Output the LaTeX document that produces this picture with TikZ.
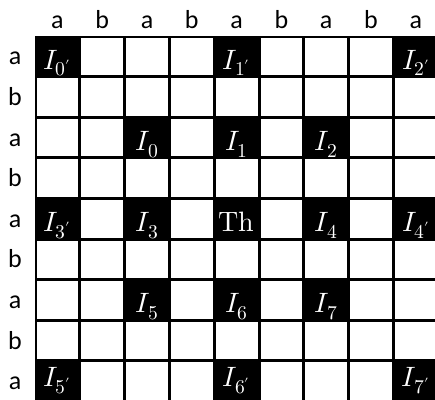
\documentclass[tikz,border=0pt]{standalone}
\usepackage{fontspec}
\usepackage{unicode-math}
\setmainfont{Carlito}
\setmathfont{Latin Modern Math}

\begin{document}
\begin{tikzpicture}[
    x=1pt, y=-1pt,
    every node/.style={inner sep=0pt, outer sep=0pt},
    hdr/.style={font=\fontsize{26}{30}\selectfont, anchor=base},
    cellbox/.style={fill=white, minimum width=41.8pt, minimum height=37.6pt},
    fullbox/.style={fill=black, minimum width=44.8pt, minimum height=40.6pt},
    tag/.style={text=white, font=\fontsize{28}{32}\selectfont, anchor=base}
]
\useasboundingbox (0,0) rectangle (435,399);

% black ground of the board
\fill[rounded corners=2pt] (35,36) rectangle (438.2,401.4);

% white squares
\foreach \r in {0,...,8}
  \foreach \c in {0,...,8}
    \node[cellbox] (c-\r-\c) at ({35+22.4+\c*44.8},{36+20.3+\r*40.6}) {};

% black squares with their labels
\foreach \r/\c/\t in {0/0/{I_{0'}}, 0/4/{I_{1'}}, 0/8/{I_{2'}},
                      2/2/{I_0}, 2/4/{I_1}, 2/6/{I_2},
                      4/0/{I_{3'}}, 4/2/{I_3}, 4/4/{\symup{Th}}, 4/6/{I_4}, 4/8/{I_{4'}},
                      6/2/{I_5}, 6/4/{I_6}, 6/6/{I_7},
                      8/0/{I_{5'}}, 8/4/{I_{6'}}, 8/8/{I_{7'}}} {
  \node[fullbox] (b-\r-\c) at (c-\r-\c) {};
  \pgfmathsetmacro{\ybase}{36+33+\r*40.6-(\r==8)*7}
  \node[tag] (t-\r-\c) at ({35+22.4+\c*44.8},\ybase) {$\t$};
}

% row and column letters
\foreach \i/\l in {0/a,1/b,2/a,3/b,4/a,5/b,6/a,7/b,8/a} {
  \node[hdr] (top-\i) at ({35+22.4+\i*44.8},28) {\l};
  \node[hdr] (left-\i) at (15,{36+20.3+8.5+\i*40.6}) {\l};
}
\end{tikzpicture}
\end{document}
